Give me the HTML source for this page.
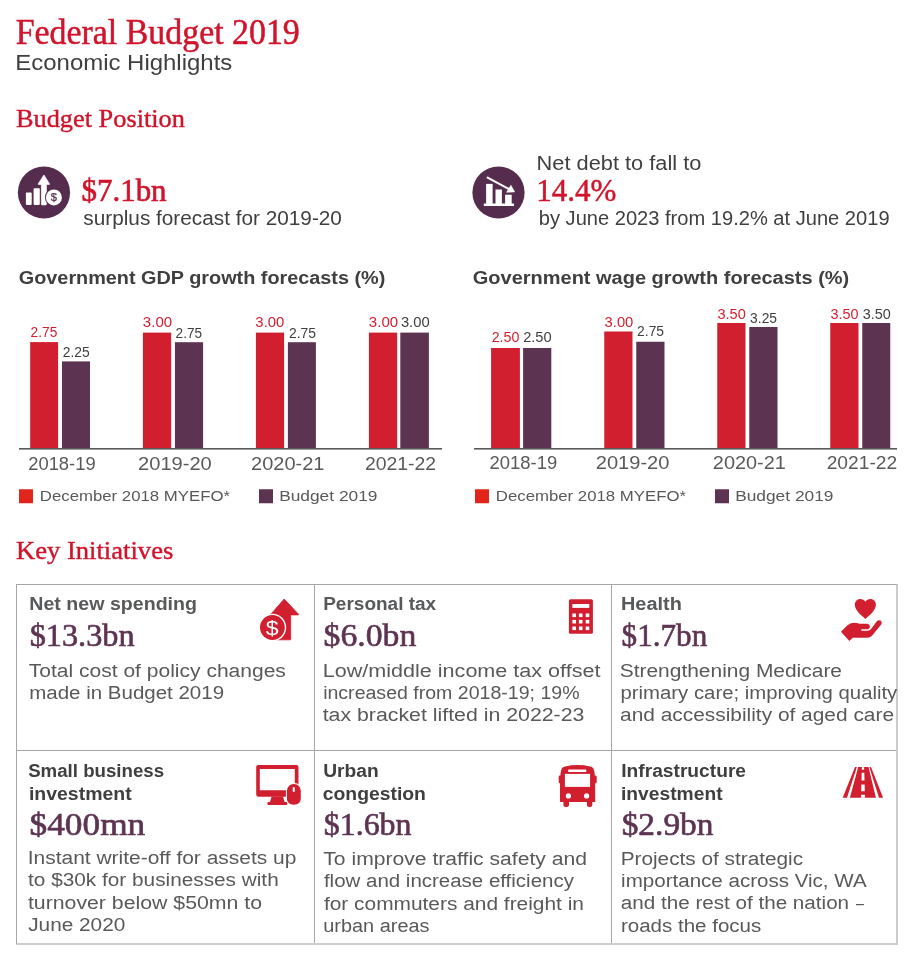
<!DOCTYPE html>
<html lang="en">
<head>
<meta charset="utf-8">
<title>Federal Budget 2019 – Economic Highlights</title>
<style>
html,body{margin:0;padding:0;background:#fff}
body{width:912px;height:964px;position:relative;overflow:hidden;font-family:'Liberation Sans',Arial,sans-serif}
#page{position:absolute;left:0;top:0;width:912px;height:964px;background:#fff;overflow:hidden}
.t{position:absolute;margin:0;padding:0;box-sizing:content-box;white-space:nowrap;transform-origin:0 0;font-weight:400;display:block}
.ss{font-family:'Liberation Sans',Arial,sans-serif}
.sf{font-family:'Liberation Serif','Times New Roman',serif}
.b{font-weight:700}
section,header,figure,article{margin:0;padding:0;position:static}
#grid{position:absolute;left:16px;top:584px;width:882px;height:361px;border-style:solid;border-color:#a4a6a9 #cdcdcd #cdcdcd #a4a6a9;border-width:1px 2px 2px 1px;box-sizing:border-box}
.ln{position:absolute;background:#a4a6a9}
svg.ic{position:absolute;left:0;top:0;width:912px;height:964px;pointer-events:none}
</style>
</head>
<body>
<div id="page">
<header><h1 class="t sf" style="left:15px;top:14.82px;padding-left:0.73px;font-size:35px;line-height:35px;color:#d0142c;transform:scaleX(0.9678);-webkit-text-stroke:0.5px #d0142c">Federal Budget 2019</h1>
<p class="t ss" style="left:15px;top:52px;padding-left:0.31px;font-size:22px;line-height:22px;color:#3f3f40;transform:scaleX(1.0885)">Economic Highlights</p>
<h2 class="t sf" style="left:15px;top:105.82px;padding-left:0.92px;font-size:26px;line-height:26px;color:#d0142c;transform:scaleX(1.0129);-webkit-text-stroke:0.4px #d0142c">Budget Position</h2></header>
<section id="stat1"><strong class="t sf" style="left:81px;top:175.82px;padding-left:0.52px;font-size:30.5px;line-height:31px;color:#d0142c;transform:scaleX(1.0138);-webkit-text-stroke:0.6px #d0142c">$7.1bn</strong>
<span class="t ss" style="left:83px;top:208px;padding-left:0.31px;font-size:20px;line-height:20px;color:#3f3f40;transform:scaleX(1.0385)">surplus forecast for 2019-20</span></section>
<section id="stat2"><span class="t ss" style="left:536px;top:153px;padding-left:0.53px;font-size:20px;line-height:20px;color:#3f3f40;transform:scaleX(1.0898)">Net debt to fall to</span>
<strong class="t sf" style="left:536px;top:175.82px;padding-left:0.14px;font-size:30.5px;line-height:31px;color:#d0142c;transform:scaleX(1.0172);-webkit-text-stroke:0.45px #d0142c">14.4%</strong>
<span class="t ss" style="left:538px;top:208px;padding-left:0.78px;font-size:20px;line-height:20px;color:#3f3f40;transform:scaleX(1.0048)">by June 2023 from 19.2% at June 2019</span></section>
<figure id="chart1"><svg class="ic" width="912" height="964" viewBox="0 0 912 964" aria-hidden="true">
<rect x="30.2" y="342.1" width="27.9" height="106.4" fill="#d21f30"/>
<rect x="62" y="361.4" width="28" height="87.1" fill="#5d3352"/>
<rect x="142.9" y="332.6" width="28.25" height="115.9" fill="#d21f30"/>
<rect x="174.95" y="342.2" width="28.15" height="106.3" fill="#5d3352"/>
<rect x="255.9" y="332.6" width="28.2" height="115.9" fill="#d21f30"/>
<rect x="287.9" y="342.2" width="28" height="106.3" fill="#5d3352"/>
<rect x="368.9" y="332.6" width="28.3" height="115.9" fill="#d21f30"/>
<rect x="400.3" y="332.6" width="28.6" height="115.9" fill="#5d3352"/>
<rect x="19" y="448" width="423" height="1.6" fill="#58595b"/>
<rect x="19" y="489.25" width="14" height="14" fill="#e1251b"/>
<rect x="259" y="489.25" width="14" height="14" fill="#5d3352"/>
</svg><h3 class="t ss b" style="left:18px;top:269px;padding-left:0.72px;font-size:18px;line-height:18px;color:#3f3f40;transform:scaleX(1.1016)">Government GDP growth forecasts (%)</h3>
<span class="t ss" style="left:30px;top:325.04px;padding-left:0.57px;font-size:14px;line-height:14px;color:#d21f30;transform:scaleX(0.9830)">2.75</span>
<span class="t ss" style="left:62px;top:345.04px;padding-left:0.75px;font-size:14px;line-height:14px;color:#3f3f40;transform:scaleX(0.9891)">2.25</span>
<span class="t ss" style="left:142px;top:315.04px;padding-left:0.8px;font-size:14px;line-height:14px;color:#d21f30;transform:scaleX(1.0725)">3.00</span>
<span class="t ss" style="left:175px;top:326.04px;padding-left:0.61px;font-size:14px;line-height:14px;color:#3f3f40;transform:scaleX(0.9700)">2.75</span>
<span class="t ss" style="left:255px;top:315.04px;padding-left:0.33px;font-size:14px;line-height:14px;color:#d21f30;transform:scaleX(1.0650)">3.00</span>
<span class="t ss" style="left:288px;top:326.04px;padding-left:1px;font-size:14px;line-height:14px;color:#3f3f40;transform:scaleX(0.9929)">2.75</span>
<span class="t ss" style="left:368px;top:315.04px;padding-left:0.8px;font-size:14px;line-height:14px;color:#d21f30;transform:scaleX(1.0725)">3.00</span>
<span class="t ss" style="left:400px;top:315.04px;padding-left:0.83px;font-size:14px;line-height:14px;color:#3f3f40;transform:scaleX(1.0569)">3.00</span>
<span class="t ss" style="left:28px;top:455px;padding-left:0.2px;font-size:18px;line-height:18px;color:#58595b;transform:scaleX(1.0206)">2018-19</span>
<span class="t ss" style="left:138px;top:455px;padding-left:0.1px;font-size:18px;line-height:18px;color:#58595b;transform:scaleX(1.1148)">2019-20</span>
<span class="t ss" style="left:251px;top:455px;padding-left:0.12px;font-size:18px;line-height:18px;color:#58595b;transform:scaleX(1.1096)">2020-21</span>
<span class="t ss" style="left:364px;top:455px;padding-left:0.84px;font-size:18px;line-height:18px;color:#58595b;transform:scaleX(1.0786)">2021-22</span>
<span class="t ss" style="left:39px;top:489px;padding-left:0.71px;font-size:14.5px;line-height:15px;color:#58595b;transform:scaleX(1.1570)">December 2018 MYEFO*</span>
<span class="t ss" style="left:279px;top:489px;padding-left:0.11px;font-size:14.5px;line-height:15px;color:#58595b;transform:scaleX(1.1954)">Budget 2019</span></figure>
<figure id="chart2"><svg class="ic" width="912" height="964" viewBox="0 0 912 964" aria-hidden="true">
<rect x="491.1" y="348" width="28.8" height="100.5" fill="#d21f30"/>
<rect x="523.1" y="348" width="28.2" height="100.5" fill="#5d3352"/>
<rect x="604.25" y="331.5" width="28.25" height="117" fill="#d21f30"/>
<rect x="636.25" y="341.75" width="28.25" height="106.75" fill="#5d3352"/>
<rect x="717.25" y="323" width="28.25" height="125.5" fill="#d21f30"/>
<rect x="749.25" y="327" width="28.25" height="121.5" fill="#5d3352"/>
<rect x="830.25" y="323" width="28.25" height="125.5" fill="#d21f30"/>
<rect x="862.25" y="323" width="28" height="125.5" fill="#5d3352"/>
<rect x="474" y="448" width="423" height="1.6" fill="#58595b"/>
<rect x="475" y="489.25" width="14" height="14" fill="#e1251b"/>
<rect x="715" y="489.25" width="14" height="14" fill="#5d3352"/>
</svg><h3 class="t ss b" style="left:472px;top:269px;padding-left:0.7px;font-size:18px;line-height:18px;color:#3f3f40;transform:scaleX(1.1104)">Government wage growth forecasts (%)</h3>
<span class="t ss" style="left:491px;top:330.04px;padding-left:0.64px;font-size:14px;line-height:14px;color:#d21f30;transform:scaleX(1.0184)">2.50</span>
<span class="t ss" style="left:523px;top:330.04px;padding-left:0.15px;font-size:14px;line-height:14px;color:#3f3f40;transform:scaleX(1.0466)">2.50</span>
<span class="t ss" style="left:604px;top:315.04px;padding-left:0.52px;font-size:14px;line-height:14px;color:#d21f30;transform:scaleX(1.0565)">3.00</span>
<span class="t ss" style="left:637px;top:324.04px;padding-left:0.13px;font-size:14px;line-height:14px;color:#3f3f40;transform:scaleX(0.9878)">2.75</span>
<span class="t ss" style="left:717px;top:307.04px;padding-left:0.41px;font-size:14px;line-height:14px;color:#d21f30;transform:scaleX(1.0401)">3.50</span>
<span class="t ss" style="left:750px;top:311.04px;padding-left:0.14px;font-size:14px;line-height:14px;color:#3f3f40;transform:scaleX(0.9881)">3.25</span>
<span class="t ss" style="left:830px;top:307.04px;padding-left:0.43px;font-size:14px;line-height:14px;color:#d21f30;transform:scaleX(1.0274)">3.50</span>
<span class="t ss" style="left:862px;top:307.04px;padding-left:0.63px;font-size:14px;line-height:14px;color:#3f3f40;transform:scaleX(1.0274)">3.50</span>
<span class="t ss" style="left:489px;top:454px;padding-left:0.54px;font-size:18px;line-height:18px;color:#58595b;transform:scaleX(1.0234)">2018-19</span>
<span class="t ss" style="left:595px;top:454px;padding-left:0.73px;font-size:18px;line-height:18px;color:#58595b;transform:scaleX(1.1145)">2019-20</span>
<span class="t ss" style="left:712px;top:454px;padding-left:0.76px;font-size:18px;line-height:18px;color:#58595b;transform:scaleX(1.1058)">2020-21</span>
<span class="t ss" style="left:826px;top:454px;padding-left:0.6px;font-size:18px;line-height:18px;color:#58595b;transform:scaleX(1.0682)">2021-22</span>
<span class="t ss" style="left:495px;top:489px;padding-left:0.71px;font-size:14.5px;line-height:15px;color:#58595b;transform:scaleX(1.1570)">December 2018 MYEFO*</span>
<span class="t ss" style="left:735px;top:489px;padding-left:0.11px;font-size:14.5px;line-height:15px;color:#58595b;transform:scaleX(1.1954)">Budget 2019</span></figure>
<section id="key"><h2 class="t sf" style="left:15px;top:537.82px;padding-left:0.9px;font-size:26px;line-height:26px;color:#d0142c;transform:scaleX(1.0236);-webkit-text-stroke:0.4px #d0142c">Key Initiatives</h2>
<div id="grid"></div>
<div class="ln" style="left:17px;top:750px;width:879px;height:1px"></div>
<div class="ln" style="left:314px;top:585px;width:1px;height:358px"></div>
<div class="ln" style="left:611px;top:585px;width:1px;height:358px"></div>
<article id="c1"><h4 class="t ss b" style="left:29px;top:595px;padding-left:0.3px;font-size:18px;line-height:18px;color:#58595b;transform:scaleX(1.0886)">Net new spending</h4>
<strong class="t sf" style="left:29px;top:620.81px;padding-left:0.62px;font-size:30.5px;line-height:31px;color:#5d3352;transform:scaleX(1.0586);-webkit-text-stroke:0.6px #5d3352">$13.3bn</strong>
<span class="t ss" style="left:28px;top:662px;padding-left:0.66px;font-size:18px;line-height:18px;color:#58595b;transform:scaleX(1.1680)">Total cost of policy changes</span>
<span class="t ss" style="left:29px;top:684px;padding-left:0.19px;font-size:18px;line-height:18px;color:#58595b;transform:scaleX(1.1385)">made in Budget 2019</span></article>
<article id="c2"><h4 class="t ss b" style="left:323px;top:595px;padding-left:0.2px;font-size:18px;line-height:18px;color:#58595b;transform:scaleX(1.0553)">Personal tax</h4>
<strong class="t sf" style="left:323px;top:620.81px;padding-left:0.57px;font-size:30.5px;line-height:31px;color:#5d3352;transform:scaleX(1.1044);-webkit-text-stroke:0.6px #5d3352">$6.0bn</strong>
<span class="t ss" style="left:322px;top:662px;padding-left:0.57px;font-size:18px;line-height:18px;color:#58595b;transform:scaleX(1.1986)">Low/middle income tax offset</span>
<span class="t ss" style="left:323px;top:684px;padding-left:0.14px;font-size:18px;line-height:18px;color:#58595b;transform:scaleX(1.0857)">increased from 2018-19; 19%</span>
<span class="t ss" style="left:322px;top:706px;padding-left:0.55px;font-size:18px;line-height:18px;color:#58595b;transform:scaleX(1.1837)">tax bracket lifted in 2022-23</span></article>
<article id="c3"><h4 class="t ss b" style="left:621px;top:595px;padding-left:0.01px;font-size:18px;line-height:18px;color:#58595b;transform:scaleX(1.1055)">Health</h4>
<strong class="t sf" style="left:621px;top:620.81px;padding-left:0.58px;font-size:30.5px;line-height:31px;color:#5d3352;transform:scaleX(1.0208);-webkit-text-stroke:0.6px #5d3352">$1.7bn</strong>
<span class="t ss" style="left:619px;top:662px;padding-left:0.62px;font-size:18px;line-height:18px;color:#58595b;transform:scaleX(1.1631)">Strengthening Medicare</span>
<span class="t ss" style="left:620px;top:684px;padding-left:0.46px;font-size:18px;line-height:18px;color:#58595b;transform:scaleX(1.1293)">primary care; improving quality</span>
<span class="t ss" style="left:620px;top:706px;padding-left:0.02px;font-size:18px;line-height:18px;color:#58595b;transform:scaleX(1.1603)">and accessibility of aged care</span></article>
<article id="c4"><h4 class="t ss b" style="left:28px;top:762px;padding-left:0.14px;font-size:18px;line-height:18px;color:#3f3f40;transform:scaleX(1.0372)">Small business</h4>
<h4 class="t ss b" style="left:28px;top:785px;padding-left:0.83px;font-size:18px;line-height:18px;color:#3f3f40;transform:scaleX(1.0818)">investment</h4>
<strong class="t sf" style="left:29px;top:809.81px;padding-left:0.46px;font-size:30.5px;line-height:31px;color:#5d3352;transform:scaleX(1.1576);-webkit-text-stroke:0.6px #5d3352">$400mn</strong>
<span class="t ss" style="left:27px;top:849px;padding-left:0.63px;font-size:18px;line-height:18px;color:#58595b;transform:scaleX(1.1640)">Instant write-off for assets up</span>
<span class="t ss" style="left:28px;top:871px;padding-left:0.09px;font-size:18px;line-height:18px;color:#58595b;transform:scaleX(1.1542)">to $30k for businesses with</span>
<span class="t ss" style="left:27px;top:894px;padding-left:0.75px;font-size:18px;line-height:18px;color:#58595b;transform:scaleX(1.1819)">turnover below $50mn to</span>
<span class="t ss" style="left:28px;top:916px;padding-left:0.16px;font-size:18px;line-height:18px;color:#58595b;transform:scaleX(1.1548)">June 2020</span></article>
<article id="c5"><h4 class="t ss b" style="left:323px;top:762px;padding-left:0.22px;font-size:18px;line-height:18px;color:#3f3f40;transform:scaleX(1.0651)">Urban</h4>
<h4 class="t ss b" style="left:322px;top:785px;padding-left:0.69px;font-size:18px;line-height:18px;color:#3f3f40;transform:scaleX(1.0749)">congestion</h4>
<strong class="t sf" style="left:323px;top:809.81px;padding-left:0.71px;font-size:30.5px;line-height:31px;color:#5d3352;transform:scaleX(1.0467);-webkit-text-stroke:0.6px #5d3352">$1.6bn</strong>
<span class="t ss" style="left:323px;top:850px;padding-left:0.28px;font-size:18px;line-height:18px;color:#58595b;transform:scaleX(1.1728)">To improve traffic safety and</span>
<span class="t ss" style="left:323px;top:872px;padding-left:0.81px;font-size:18px;line-height:18px;color:#58595b;transform:scaleX(1.1373)">flow and increase efficiency</span>
<span class="t ss" style="left:323px;top:895px;padding-left:0.77px;font-size:18px;line-height:18px;color:#58595b;transform:scaleX(1.1606)">for commuters and freight in</span>
<span class="t ss" style="left:323px;top:917px;padding-left:0.28px;font-size:18px;line-height:18px;color:#58595b;transform:scaleX(1.1052)">urban areas</span></article>
<article id="c6"><h4 class="t ss b" style="left:621px;top:762px;padding-left:0.19px;font-size:18px;line-height:18px;color:#3f3f40;transform:scaleX(1.0667)">Infrastructure</h4>
<h4 class="t ss b" style="left:621px;top:785px;padding-left:0.03px;font-size:18px;line-height:18px;color:#3f3f40;transform:scaleX(1.0686)">investment</h4>
<strong class="t sf" style="left:621px;top:809.81px;padding-left:0.62px;font-size:30.5px;line-height:31px;color:#5d3352;transform:scaleX(1.0951);-webkit-text-stroke:0.6px #5d3352">$2.9bn</strong>
<span class="t ss" style="left:620px;top:850px;padding-left:0.59px;font-size:18px;line-height:18px;color:#58595b;transform:scaleX(1.1543)">Projects of strategic</span>
<span class="t ss" style="left:621px;top:872px;padding-left:0.12px;font-size:18px;line-height:18px;color:#58595b;transform:scaleX(1.1415)">importance across Vic, WA</span>
<span class="t ss" style="left:620px;top:894px;padding-left:0.74px;font-size:18px;line-height:18px;color:#58595b;transform:scaleX(1.1461)">and the rest of the nation <span style="display:inline-block;margin-left:1.3px;transform:scaleX(.69);transform-origin:0 50%">–</span></span>
<span class="t ss" style="left:620px;top:917px;padding-left:0.86px;font-size:18px;line-height:18px;color:#58595b;transform:scaleX(1.1394)">roads the focus</span></article>
</section>
<svg class="ic" width="912" height="964" viewBox="0 0 912 964" aria-hidden="true">
<!-- stat 1: surplus -->
<g id="ic-surplus">
<circle cx="43.95" cy="192.5" r="26.1" fill="#562c4e"/>
<rect x="25.9" y="192.6" width="5.8" height="12.3" rx="0.8" fill="#fff"/>
<rect x="33.6" y="188.2" width="6.2" height="16.7" rx="0.8" fill="#fff"/>
<path d="M43.9 175 L49.6 183.9 Q49.8 184.4 49.2 184.4 L46.4 184.4 L46.4 204.2 Q46.4 204.9 45.7 204.9 L42.1 204.9 Q41.4 204.9 41.4 204.2 L41.4 184.4 L38.6 184.4 Q38 184.4 38.2 183.9 Z" fill="#fff" stroke="#fff" stroke-width="0.7" stroke-linejoin="round"/>
<circle cx="53.9" cy="197.4" r="9" fill="#562c4e"/>
<circle cx="53.9" cy="197.4" r="8" fill="#fff"/>
<text x="53.9" y="201.2" font-family="'Liberation Sans',Arial,sans-serif" font-weight="400" font-size="11" text-anchor="middle" fill="#562c4e" stroke="#562c4e" stroke-width="0.25">$</text>
</g>
<!-- stat 2: net debt -->
<g id="ic-debt">
<circle cx="498.5" cy="192.5" r="26.1" fill="#562c4e"/>
<rect x="483.8" y="203.5" width="30.2" height="2.4" rx="0.5" fill="#fff"/>
<rect x="486.1" y="183.9" width="6.5" height="20" fill="#fff"/>
<rect x="495.5" y="189.5" width="6.4" height="14.5" fill="#fff"/>
<rect x="505.1" y="194.7" width="6.6" height="9.3" fill="#fff"/>
<path d="M487.6 177.6 L510.5 189.8" stroke="#fff" stroke-width="2" stroke-linecap="round" fill="none"/>
<path d="M514.7 191.9 L510.9 185.2 L506.5 192.3 Z" fill="#fff" stroke="#fff" stroke-width="0.5" stroke-linejoin="round"/>
</g>
<!-- card 1: spending -->
<g id="ic-spend" fill="#d21f30">
<path d="M284.2 599 L298.5 614.2 Q298.9 614.9 298.1 614.9 L290.7 614.9 L290.7 639.3 Q290.7 639.8 290.2 639.8 L276 639.8 L276 614.9 L270.2 614.9 Z" stroke="#d21f30" stroke-width="0.8" stroke-linejoin="round"/>
<circle cx="272.4" cy="627.5" r="13.8" fill="#fff"/>
<circle cx="272.4" cy="627.5" r="12.4"/>
<text x="272.3" y="634.6" font-family="'Liberation Sans',Arial,sans-serif" font-size="21" text-anchor="middle" fill="#fff" transform="translate(272.3 0) scale(1.1 1) translate(-272.3 0)">$</text>
</g>
<!-- card 2: calculator -->
<g id="ic-calc">
<rect x="568.9" y="599.2" width="24" height="34.6" rx="1.6" fill="#d21f30"/>
<rect x="572.4" y="604" width="16.9" height="3.9" fill="#fff"/>
<g fill="#fff">
<rect x="572.4" y="613.5" width="3.6" height="3.6"/><rect x="578.9" y="613.5" width="3.6" height="3.6"/><rect x="585.7" y="613.5" width="3.6" height="3.6"/>
<rect x="572.4" y="619.9" width="3.6" height="3.6"/><rect x="578.9" y="619.9" width="3.6" height="3.6"/><rect x="585.7" y="619.9" width="3.6" height="3.6"/>
<rect x="572.4" y="626.5" width="3.6" height="3.6"/><rect x="578.9" y="626.5" width="3.6" height="3.6"/><rect x="585.7" y="626.5" width="3.6" height="3.6"/>
</g>
</g>
<!-- card 3: health -->
<g id="ic-health" fill="#d21f30">
<path d="M865.4 618.9 C861.5 615.6 854.8 610.5 854.8 604.6 C854.8 601.3 857.3 598.9 860.3 598.9 C862.4 598.9 864.3 599.9 865.4 601.7 C866.5 599.9 868.4 598.9 870.5 598.9 C873.5 598.9 875.9 601.3 875.9 604.6 C875.9 610.5 869.3 615.6 865.4 618.9 Z"/>
<path d="M840.9 631.8 L847.2 625.6 Q850.2 622.8 853.6 622.8 L857 623 Q858.5 623.6 860.5 623.7 L867.6 623.8 Q869.9 624.3 869.9 626.6 Q869.9 629 867.6 629.3 L862 629.3 Q861.1 629.4 861.1 630 Q861.1 630.6 862 630.7 L867.8 630.7 Q870.2 630.4 871.5 628.6 L876.6 621.6 Q878.4 619.4 880.5 620.6 Q882.6 622 881.4 624.2 L872.2 635.4 Q870.3 637.7 867.2 637.7 L852.8 637.7 L849.4 641 Z"/>
</g>
<!-- card 4: small business -->
<g id="ic-biz" fill="#d21f30">
<path fill-rule="evenodd" d="M258.4 764.9 L296.3 764.9 Q298.5 764.9 298.5 767.1 L298.5 794.6 Q298.5 796.8 296.3 796.8 L258.4 796.8 Q256.2 796.8 256.2 794.6 L256.2 767.1 Q256.2 764.9 258.4 764.9 Z M259.8 769 L259.8 790.2 L294.8 790.2 L294.8 769 Z"/>
<path d="M271.6 796.5 L283 796.5 L284.6 802 L286.6 802 Q287.4 802 287.4 802.8 L287.4 804.1 Q287.4 804.9 286.6 804.9 L268.2 804.9 Q267.4 804.9 267.4 804.1 L267.4 802.8 Q267.4 802 268.2 802 L270 802 Z"/>
<path d="M293.85 783 C298.6 783 301.8 786.4 301.8 792 L301.8 798 C301.8 803 298.8 805.7 293.85 805.7 C288.9 805.7 285.9 803 285.9 798 L285.9 792 C285.9 786.4 289.1 783 293.85 783 Z" fill="#fff"/>
<path d="M293.85 784 C298 784 300.8 787 300.8 792 L300.8 798 C300.8 802.4 298.2 804.7 293.85 804.7 C289.5 804.7 286.9 802.4 286.9 798 L286.9 792 C286.9 787 289.7 784 293.85 784 Z"/>
<rect x="292.7" y="786.9" width="2.1" height="5" rx="1" fill="#fff"/>
</g>
<!-- card 5: bus -->
<g id="ic-bus" fill="#d21f30">
<path d="M560 801.9 L560 780 Q560.3 772 561.8 768.6 Q562.6 767 565 766.4 Q571 765.1 577.6 765.1 Q584.2 765.1 590.2 766.4 Q592.6 767 593.4 768.6 Q594.9 772 595.2 780 L595.2 801.9 Z"/>
<rect x="558.7" y="775.6" width="2.6" height="7.6" rx="1.2"/>
<rect x="594" y="775.6" width="2.7" height="7.6" rx="1.2"/>
<rect x="563.4" y="798" width="5.6" height="8.9" rx="2.2"/>
<rect x="586.9" y="798" width="5.4" height="8.9" rx="2.2"/>
<rect x="568.2" y="769.5" width="18.1" height="2.5" rx="0.5" fill="#fff"/>
<rect x="564.9" y="773.9" width="25.2" height="13" fill="#fff"/>
<circle cx="568.4" cy="795.9" r="2.6" fill="#fff"/>
<circle cx="586.6" cy="795.9" r="2.6" fill="#fff"/>
</g>
<!-- card 6: road -->
<g id="ic-road" fill="#d21f30">
<path d="M855 767 L856.9 767 L847 797.8 L842.7 797.8 Z"/>
<path d="M858.2 767 L868.5 767 L875.9 797.8 L849.9 797.8 Z"/>
<path d="M869.4 767 L871 767 L883.1 797.8 L879 797.8 Z"/>
<g fill="#fff">
<path d="M861.9 767 L864.1 767 L864.2 769.8 L861.8 769.8 Z"/>
<path d="M861.7 772.8 L864.3 772.8 L864.5 780.5 L861.5 780.5 Z"/>
<path d="M861.4 784.6 L864.6 784.6 L864.8 791.2 L861.2 791.2 Z"/>
<path d="M861.1 794.8 L864.9 794.8 L865 797.8 L861 797.8 Z"/>
</g>
</g>
</svg>

</div>
</body>
</html>
